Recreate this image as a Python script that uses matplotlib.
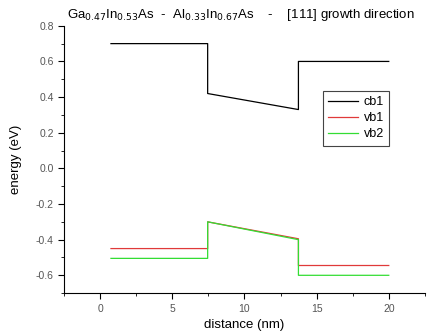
import matplotlib
matplotlib.use("Agg")
import matplotlib.pyplot as plt
from matplotlib.ticker import MultipleLocator

plt.rcParams['font.family'] = ['Liberation Sans', 'DejaVu Sans']

# band profiles (distance in nm, energy in eV)
x = [0.75, 7.45, 7.45, 13.74, 13.74, 20.0]
cb1 = [0.70, 0.70, 0.42, 0.33, 0.60, 0.60]
vb1 = [-0.45, -0.45, -0.30, -0.395, -0.545, -0.545]
vb2 = [-0.505, -0.505, -0.30, -0.40, -0.60, -0.60]

fig = plt.figure(figsize=(4.3, 3.35), dpi=100)
ax = fig.add_axes([0.149, 0.125, 0.839, 0.798])

ax.plot(x, cb1, color='black', lw=0.9, label='cb1')
ax.plot(x, vb1, color='#e03a3a', lw=0.9, label='vb1')
ax.plot(x, vb2, color='#33dd33', lw=0.9, label='vb2')

ax.set_xlim(-2.5, 22.5)
ax.set_ylim(-0.7, 0.8)
ax.xaxis.set_major_locator(MultipleLocator(5))
ax.xaxis.set_minor_locator(MultipleLocator(2.5))
ax.yaxis.set_major_locator(MultipleLocator(0.2))
ax.yaxis.set_minor_locator(MultipleLocator(0.1))
ax.yaxis.set_major_formatter(plt.FuncFormatter(lambda v, p: '%.1f' % v))

ax.spines['top'].set_visible(False)
ax.spines['right'].set_visible(False)
ax.tick_params(which='both', direction='out', labelsize=7.5, labelcolor='#555555')
ax.tick_params(which='major', length=4)
ax.tick_params(which='minor', length=2.5)

ax.set_xlabel('distance (nm)', fontsize=9.5, labelpad=4)
ax.set_ylabel('energy (eV)', fontsize=9.5, labelpad=10)

fig.text(0.56, 0.955,
         r'Ga$_{0.47}$In$_{0.53}$As  -  Al$_{0.33}$In$_{0.67}$As    -    [111] growth direction',
         ha='center', va='center', fontsize=9.5)

leg = ax.legend(loc='upper left', bbox_to_anchor=(0.70, 0.78), fontsize=9,
                fancybox=False, edgecolor='#444444', framealpha=1,
                handlelength=2.4, borderpad=0.45, labelspacing=0.3, handletextpad=0.4)
leg.get_frame().set_linewidth(0.8)

fig.savefig('out.png', dpi=100)
